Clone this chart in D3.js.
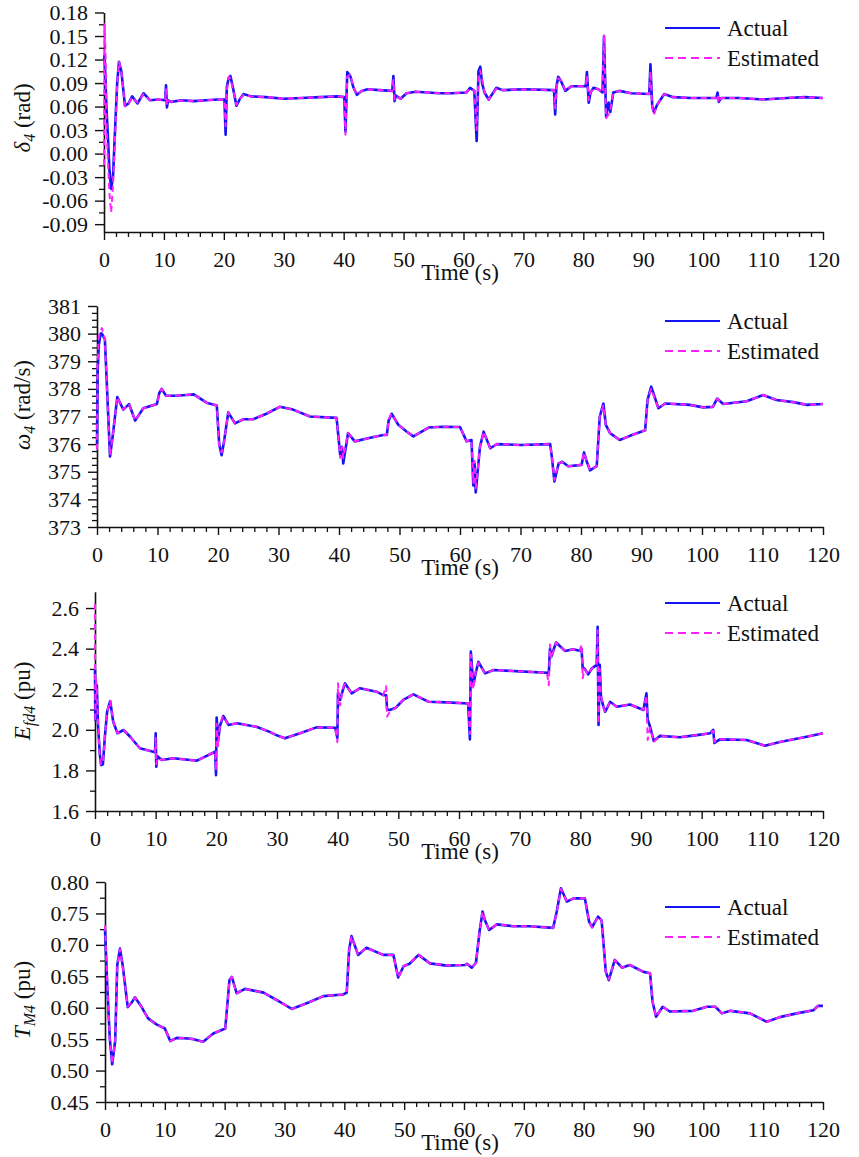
<!DOCTYPE html>
<html>
<head>
<meta charset="utf-8">
<script src="https://cdn.jsdelivr.net/npm/d3@7"></script>
<style>
  body { margin: 0; background: #fff; }
  svg text { font-family: "Liberation Serif", "Times New Roman", "DejaVu Serif", serif; fill: #111; }
</style>
</head>
<body>
<svg id="chart" width="859" height="1157"></svg>
<script>
// ---------- Rotor angle δ4 (rad) ----------
const deltaTime = [0, 0.1, 0.25, 0.4, 0.6, 0.9, 1.2, 1.5, 1.9, 2.2,
  2.5, 2.9, 3.5, 4.1, 4.7, 5.6, 6.6, 7.7, 9.0, 10.2,
  10.35, 10.5, 10.7, 11.2, 13, 15, 17, 19, 20.1, 20.3,
  20.5, 20.8, 21.1, 21.5, 22.1, 22.7, 23.3, 24.5, 27, 30,
  33, 36, 39, 40.1, 40.3, 40.6, 41.1, 41.6, 42.2, 43,
  44, 46, 48.1, 48.3, 48.5, 48.7, 49.5, 50.5, 52, 54,
  56, 58, 60.5, 61.1, 61.8, 62.2, 62.5, 62.8, 63.1, 63.5,
  64.2, 65.5, 66.5, 70, 75.1, 75.3, 75.5, 75.8, 76.3, 77,
  78, 80.4, 80.6, 80.9, 81.2, 81.7, 82.5, 83.2, 83.45, 83.8,
  84.2, 84.5, 85, 86, 88, 91.0, 91.2, 91.5, 91.8, 92.3,
  93.5, 95, 98, 102.2, 102.4, 102.6, 103, 106, 110, 114,
  117, 120];
const deltaActual = [0.120, 0.125, 0.095, 0.060, 0.030, -0.020, -0.045, -0.030, 0.040, 0.090,
  0.117, 0.105, 0.061, 0.064, 0.073, 0.064, 0.077, 0.068, 0.069, 0.068,
  0.087, 0.059, 0.068, 0.066, 0.068, 0.067, 0.068, 0.069, 0.069, 0.024,
  0.085, 0.096, 0.099, 0.085, 0.061, 0.070, 0.076, 0.073, 0.072, 0.070,
  0.071, 0.072, 0.073, 0.072, 0.028, 0.104, 0.099, 0.085, 0.075, 0.080,
  0.082, 0.081, 0.080, 0.099, 0.067, 0.074, 0.070, 0.077, 0.079, 0.078,
  0.077, 0.077, 0.078, 0.084, 0.080, 0.016, 0.105, 0.111, 0.090, 0.078,
  0.069, 0.084, 0.081, 0.082, 0.081, 0.050, 0.085, 0.098, 0.092, 0.080,
  0.086, 0.086, 0.104, 0.065, 0.078, 0.084, 0.082, 0.078, 0.150, 0.047,
  0.065, 0.053, 0.078, 0.080, 0.077, 0.076, 0.114, 0.060, 0.053, 0.062,
  0.076, 0.072, 0.071, 0.071, 0.078, 0.066, 0.071, 0.071, 0.069, 0.071,
  0.072, 0.071];
const deltaEstimated = [-0.015, 0.165, 0.130, 0.040, 0.000, -0.050, -0.075, -0.040, 0.030, 0.088,
  0.117, 0.105, 0.060, 0.064, 0.072, 0.065, 0.076, 0.068, 0.069, 0.068,
  0.082, 0.062, 0.067, 0.066, 0.068, 0.067, 0.068, 0.069, 0.069, 0.035,
  0.080, 0.098, 0.096, 0.083, 0.062, 0.070, 0.075, 0.073, 0.072, 0.070,
  0.071, 0.072, 0.073, 0.072, 0.024, 0.098, 0.101, 0.085, 0.075, 0.080,
  0.082, 0.081, 0.080, 0.094, 0.069, 0.073, 0.070, 0.077, 0.079, 0.078,
  0.077, 0.077, 0.078, 0.083, 0.080, 0.030, 0.100, 0.106, 0.095, 0.078,
  0.069, 0.083, 0.081, 0.082, 0.081, 0.058, 0.083, 0.096, 0.093, 0.080,
  0.086, 0.086, 0.100, 0.068, 0.078, 0.084, 0.082, 0.078, 0.152, 0.045,
  0.050, 0.055, 0.078, 0.080, 0.077, 0.076, 0.105, 0.058, 0.050, 0.062,
  0.076, 0.072, 0.071, 0.071, 0.075, 0.065, 0.071, 0.071, 0.069, 0.071,
  0.072, 0.071];
const deltaTicks = [-0.09, -0.06, -0.03, 0.00, 0.03, 0.06, 0.09, 0.12, 0.15, 0.18];

// ---------- Rotor speed ω4 (rad/s) ----------
const omegaTime = [0, 0.1, 0.3, 0.6, 0.8, 1.3, 1.7, 2.15, 2.6, 3.35,
  4.35, 5.3, 6.3, 7.65, 9.9, 10.3, 10.7, 11.4, 13, 14.8,
  16, 18.1, 19.8, 20.2, 20.6, 21.0, 21.7, 22.8, 24.2, 25.8,
  28, 30.2, 32.4, 35.2, 39.6, 40.2, 40.5, 40.7, 41.5, 42.6,
  44.6, 47.3, 47.9, 48.2, 48.7, 49.8, 51.2, 52.3, 54.8, 57,
  60, 61.1, 61.9, 62.2, 62.4, 62.6, 63.3, 63.9, 65, 66.1,
  70, 74.9, 75.2, 75.6, 76.3, 76.9, 77.9, 80.1, 80.5, 80.9,
  81.5, 82.6, 83.1, 83.7, 84.1, 84.8, 86.4, 88.1, 90.6, 91.0,
  91.6, 92.8, 93.9, 98, 100.2, 101.8, 102.5, 103.5, 107.4, 110.1,
  112.3, 115.1, 117.3, 120];
const omegaActual = [376.0, 378.6, 379.6, 380.0, 380.0, 379.8, 377.8, 375.55, 376.3, 377.7,
  377.25, 377.45, 376.85, 377.3, 377.45, 377.85, 378.0, 377.75, 377.75, 377.78,
  377.8, 377.5, 377.4, 376.0, 375.6, 376.1, 377.15, 376.75, 376.9, 376.9,
  377.1, 377.35, 377.25, 377.0, 376.95, 375.6, 375.9, 375.3, 376.4, 376.1,
  376.2, 376.33, 376.33, 376.85, 377.1, 376.7, 376.45, 376.28, 376.6, 376.63,
  376.62, 376.1, 376.15, 374.5, 375.3, 374.25, 375.9, 376.45, 375.85, 376.0,
  375.97, 376.0, 375.5, 374.65, 375.3, 375.36, 375.2, 375.25, 375.7, 375.4,
  375.05, 375.2, 377.0, 377.47, 376.7, 376.4, 376.15, 376.3, 376.5, 377.6,
  378.08, 377.3, 377.47, 377.42, 377.33, 377.35, 377.65, 377.45, 377.55, 377.78,
  377.6, 377.52, 377.42, 377.45];
const omegaEstimated = [375.8, 378.9, 379.9, 380.1, 380.2, 379.8, 377.7, 375.6, 376.3, 377.7,
  377.25, 377.45, 376.85, 377.3, 377.45, 377.85, 378.0, 377.75, 377.75, 377.78,
  377.8, 377.5, 377.4, 375.9, 375.7, 376.1, 377.15, 376.75, 376.9, 376.9,
  377.1, 377.35, 377.25, 377.0, 376.95, 375.5, 375.9, 375.5, 376.4, 376.1,
  376.2, 376.33, 376.33, 376.9, 377.1, 376.7, 376.45, 376.28, 376.6, 376.63,
  376.62, 376.1, 376.15, 374.6, 375.4, 374.4, 375.9, 376.45, 375.85, 376.0,
  375.97, 376.0, 375.5, 374.7, 375.3, 375.36, 375.2, 375.25, 375.7, 375.4,
  375.05, 375.2, 377.0, 377.4, 376.7, 376.4, 376.15, 376.3, 376.5, 377.6,
  378.0, 377.3, 377.47, 377.42, 377.33, 377.35, 377.65, 377.45, 377.55, 377.78,
  377.6, 377.52, 377.42, 377.45];
const omegaTicks = [373, 374, 375, 376, 377, 378, 379, 380, 381];

// ---------- Field voltage Efd4 (pu) ----------
const efdTime = [0, 0.05, 0.15, 0.3, 0.5, 0.8, 1.0, 1.3, 1.65, 2.0,
  2.5, 3.0, 3.7, 4.7, 5.8, 7.4, 9.6, 9.9, 10.0, 10.1,
  10.3, 11, 12.9, 15.7, 16.8, 19.8, 19.95, 20.05, 20.3, 20.6,
  21.15, 22, 23.4, 26.6, 28.8, 29.9, 31.3, 33.8, 36.5, 39.6,
  39.95, 40.05, 40.4, 40.9, 41.2, 42.3, 43.7, 46.4, 47.5, 48.0,
  48.15, 48.6, 49.5, 50.8, 52.5, 55, 58, 61.5, 61.8, 61.95,
  62.35, 62.75, 63.2, 64.3, 65.7, 70, 74.5, 74.8, 75.0, 75.2,
  76.0, 77.5, 78.8, 79.9, 80.2, 80.4, 80.65, 81.3, 81.9, 82.7,
  82.85, 83.0, 83.2, 83.4, 83.8, 84.1, 84.9, 86, 88.2, 90.4,
  90.9, 91.1, 91.5, 92.1, 93.1, 96.4, 99.2, 101.4, 101.9, 102.1,
  103, 107.4, 110.4, 112.9, 117.3, 120];
const efdActual = [2.30, 2.05, 2.20, 2.22, 2.02, 1.88, 1.826, 1.83, 1.975, 2.09,
  2.142, 2.04, 1.983, 1.999, 1.966, 1.909, 1.892, 1.89, 1.983, 1.818,
  1.87, 1.851, 1.86, 1.851, 1.848, 1.892, 1.777, 2.06, 1.95, 2.02,
  2.068, 2.024, 2.032, 2.015, 1.99, 1.974, 1.958, 1.983, 2.012, 2.01,
  1.96, 2.18, 2.147, 2.2, 2.229, 2.18, 2.205, 2.188, 2.171, 2.17,
  2.10, 2.098, 2.107, 2.147, 2.175, 2.138, 2.135, 2.13, 1.953, 2.385,
  2.22, 2.28, 2.335, 2.278, 2.295, 2.288, 2.281, 2.28, 2.40, 2.36,
  2.43, 2.388, 2.397, 2.39, 2.40, 2.30, 2.303, 2.273, 2.303, 2.32,
  2.508, 2.024, 2.32, 2.163, 2.114, 2.089, 2.138, 2.114, 2.125, 2.098,
  2.18, 2.05, 2.015, 1.945, 1.97, 1.963, 1.974, 1.983, 2.00, 1.935,
  1.953, 1.95, 1.922, 1.94, 1.966, 1.983];
const efdEstimated = [2.62, 2.04, 2.25, 2.20, 2.03, 1.87, 1.83, 1.84, 1.97, 2.09,
  2.142, 2.04, 1.983, 1.999, 1.966, 1.909, 1.892, 1.89, 1.96, 1.83,
  1.86, 1.851, 1.86, 1.851, 1.848, 1.892, 1.80, 2.03, 1.92, 2.03,
  2.068, 2.024, 2.032, 2.015, 1.99, 1.974, 1.958, 1.983, 2.012, 2.01,
  1.94, 2.229, 2.12, 2.21, 2.225, 2.18, 2.205, 2.188, 2.171, 2.215,
  2.065, 2.09, 2.107, 2.147, 2.175, 2.138, 2.135, 2.13, 1.98, 2.37,
  2.20, 2.29, 2.33, 2.278, 2.295, 2.288, 2.281, 2.22, 2.42, 2.35,
  2.43, 2.388, 2.397, 2.39, 2.42, 2.254, 2.30, 2.273, 2.303, 2.32,
  2.49, 2.03, 2.30, 2.17, 2.11, 2.09, 2.138, 2.114, 2.125, 2.098,
  2.17, 1.95, 2.01, 1.94, 1.97, 1.963, 1.974, 1.983, 1.995, 1.94,
  1.953, 1.95, 1.922, 1.94, 1.966, 1.983];
const efdTicks = [1.6, 1.8, 2.0, 2.2, 2.4, 2.6];

// ---------- Mechanical torque TM4 (pu) ----------
const tmTime = [0, 0.4, 0.8, 1.2, 1.7, 2.05, 2.5, 2.95, 3.8, 4.45,
  5.0, 6.1, 7.2, 8.6, 10, 10.9, 12, 13.9, 14.8, 16.4,
  18.1, 20.1, 20.8, 21.2, 22, 23.4, 26.5, 29.2, 31.2, 33.7,
  36.5, 39.8, 40.4, 40.8, 41.2, 42.3, 43.7, 46.5, 48.2, 49,
  49.9, 50.9, 52.4, 54.3, 57.1, 60.2, 60.5, 61.3, 62, 62.6,
  63.1, 63.5, 64.2, 65.5, 68.2, 71, 74.9, 75.5, 76.2, 77.2,
  78.3, 80.2, 80.9, 81.4, 82.4, 83, 83.7, 84.2, 85.2, 86.4,
  87.7, 90, 91.1, 91.5, 92.1, 93.2, 94.4, 98.3, 100.6, 102,
  103.1, 104.5, 107.8, 110.6, 112.8, 115.6, 118.4, 119.2, 120];
const tmActual = [0.725, 0.631, 0.551, 0.510, 0.547, 0.668, 0.694, 0.668, 0.601, 0.608,
  0.6165, 0.6015, 0.583, 0.5735, 0.567, 0.547, 0.552, 0.551, 0.550, 0.5458,
  0.559, 0.567, 0.644, 0.649, 0.623, 0.630, 0.624, 0.6095, 0.598, 0.607,
  0.6185, 0.621, 0.624, 0.692, 0.714, 0.684, 0.6955, 0.684, 0.684, 0.648,
  0.666, 0.670, 0.684, 0.6706, 0.667, 0.668, 0.670, 0.6636, 0.6715, 0.721,
  0.753, 0.739, 0.7236, 0.7326, 0.7296, 0.7296, 0.727, 0.753, 0.790, 0.7687,
  0.774, 0.774, 0.737, 0.728, 0.7448, 0.739, 0.657, 0.644, 0.676, 0.6636,
  0.668, 0.657, 0.6547, 0.610, 0.5856, 0.6015, 0.594, 0.595, 0.6015, 0.6015,
  0.591, 0.595, 0.591, 0.5776, 0.585, 0.591, 0.596, 0.603, 0.603];
const tmEstimated = [0.731, 0.633, 0.552, 0.511, 0.548, 0.667, 0.693, 0.667, 0.602, 0.608,
  0.6165, 0.6015, 0.583, 0.5735, 0.567, 0.547, 0.552, 0.551, 0.550, 0.5458,
  0.559, 0.567, 0.643, 0.649, 0.623, 0.630, 0.624, 0.6095, 0.598, 0.607,
  0.6185, 0.621, 0.624, 0.691, 0.714, 0.684, 0.6955, 0.684, 0.684, 0.648,
  0.666, 0.670, 0.684, 0.6706, 0.667, 0.668, 0.670, 0.6636, 0.6715, 0.720,
  0.753, 0.739, 0.7236, 0.7326, 0.7296, 0.7296, 0.727, 0.752, 0.789, 0.7687,
  0.774, 0.774, 0.737, 0.728, 0.7448, 0.739, 0.657, 0.645, 0.676, 0.6636,
  0.668, 0.657, 0.6547, 0.611, 0.5856, 0.6015, 0.594, 0.595, 0.6015, 0.6015,
  0.591, 0.595, 0.591, 0.5776, 0.585, 0.591, 0.596, 0.603, 0.603];
const tmTicks = [0.45, 0.50, 0.55, 0.60, 0.65, 0.70, 0.75, 0.80];

// ---------- Shared time axis ----------
const timeTicks = [0, 10, 20, 30, 40, 50, 60, 70, 80, 90, 100, 110, 120];
const legendLabels = ["Actual", "Estimated"];
const xAxisTitle = "Time (s)";

// ---------- Layout ----------
const SERIF = '"Liberation Serif", "Times New Roman", "DejaVu Serif", serif';
const fmt = d3.formatLocale({decimal: ".", thousands: ",", grouping: [3], currency: ["", ""], minus: "-"});

const panels = [
  {
    time: deltaTime, actual: deltaActual, estimated: deltaEstimated,
    yDomain: [-0.1, 0.18], yTicks: deltaTicks, yMinorStep: 0.015, yFormat: fmt.format(".2f"),
    left: 104, right: 823, top: 12.5, bottom: 232, legendY: 28, titleY: 118,
    title: [{t: "δ", i: true}, {t: "4", i: true, sub: true}, {t: " (rad)"}]
  },
  {
    time: omegaTime, actual: omegaActual, estimated: omegaEstimated,
    yDomain: [373, 381], yTicks: omegaTicks, yMinorStep: 0.25, yFormat: fmt.format("d"),
    left: 97, right: 823, top: 306, bottom: 527, legendY: 321, titleY: 405,
    title: [{t: "ω", i: true}, {t: "4", i: true, sub: true}, {t: " (rad/s)"}]
  },
  {
    time: efdTime, actual: efdActual, estimated: efdEstimated,
    yDomain: [1.6, 2.68], yTicks: efdTicks, yMinorStep: 0.1, yFormat: fmt.format(".1f"),
    left: 95, right: 823, top: 591.8, bottom: 811, legendY: 603, titleY: 701,
    title: [{t: "E", i: true}, {t: "fd4", i: true, sub: true}, {t: " (pu)"}]
  },
  {
    time: tmTime, actual: tmActual, estimated: tmEstimated,
    yDomain: [0.45, 0.80], yTicks: tmTicks, yMinorStep: 0.025, yFormat: fmt.format(".2f"),
    left: 105, right: 823, top: 882, bottom: 1102, legendY: 907, titleY: 1000,
    title: [{t: "T", i: true}, {t: "M4", i: true, sub: true}, {t: " (pu)"}]
  }
];

const actualColor = "#1414f5";
const estColor = "#ff22ff";
const svg = d3.select("#chart");

panels.forEach(p => {
  const x = d3.scaleLinear().domain([0, 120]).range([p.left, p.right]);
  const y = d3.scaleLinear().domain(p.yDomain).range([p.bottom, p.top]);
  const g = svg.append("g").attr("font-family", SERIF);

  // minor ticks
  const yMinor = d3.range(
    Math.ceil(p.yDomain[0] / p.yMinorStep - 1e-6) * p.yMinorStep,
    p.yDomain[1] + 1e-9, p.yMinorStep
  ).filter(v => !p.yTicks.some(t => Math.abs(t - v) < 1e-6) && v >= p.yDomain[0] - 1e-9);
  const xMinor = d3.range(0, 121, 2).filter(v => v % 10 !== 0);

  g.append("g")
    .attr("transform", `translate(${p.left},0)`)
    .call(d3.axisLeft(y).tickValues(yMinor).tickSize(5).tickSizeOuter(0).tickFormat(""))
    .call(s => s.select(".domain").remove())
    .selectAll("line").attr("stroke", "#111").attr("stroke-width", 1.3);

  g.append("g")
    .attr("transform", `translate(0,${p.bottom})`)
    .call(d3.axisBottom(x).tickValues(xMinor).tickSize(5).tickSizeOuter(0).tickFormat(""))
    .call(s => s.select(".domain").remove())
    .selectAll("line").attr("stroke", "#111").attr("stroke-width", 1.3);

  // major axes
  const ya = g.append("g")
    .attr("transform", `translate(${p.left},0)`)
    .call(d3.axisLeft(y).tickValues(p.yTicks).tickSize(9).tickSizeOuter(0).tickPadding(7).tickFormat(p.yFormat));
  ya.attr("font-size", 22).attr("font-family", SERIF);
  ya.selectAll("text").style("font-family", SERIF).style("font-size", "22px");
  ya.select(".domain").attr("stroke", "#111").attr("stroke-width", 1.6);
  ya.selectAll(".tick line").attr("stroke", "#111").attr("stroke-width", 1.4);

  const xa = g.append("g")
    .attr("transform", `translate(0,${p.bottom})`)
    .call(d3.axisBottom(x).tickValues(timeTicks).tickSize(8).tickSizeOuter(0).tickPadding(11).tickFormat(d3.format("d")));
  xa.attr("font-size", 22).attr("font-family", SERIF);
  xa.selectAll("text").style("font-family", SERIF).style("font-size", "22px");
  xa.select(".domain").attr("stroke", "#111").attr("stroke-width", 1.6);
  xa.selectAll(".tick line").attr("stroke", "#111").attr("stroke-width", 1.4);

  // x-axis title
  g.append("text")
    .attr("x", 460).attr("y", p.bottom + 48)
    .attr("text-anchor", "middle")
    .style("font-family", SERIF)
    .style("font-size", "23px")
    .text(xAxisTitle);

  // y-axis title (rotated)
  const yt = g.append("text")
    .attr("transform", `translate(30,${p.titleY}) rotate(-90)`)
    .attr("text-anchor", "middle")
    .style("font-family", SERIF)
    .style("font-size", "23px");
  p.title.forEach((part, k) => {
    const ts = yt.append("tspan").text(part.t);
    if (part.i) ts.attr("font-style", "italic");
    if (part.sub) ts.style("font-size", "16px").attr("dy", 5);
    else if (k > 0 && p.title[k - 1].sub) ts.attr("dy", -5);
  });

  // series
  const rows = p.time.map((t, k) => ({t, a: p.actual[k], e: p.estimated[k]}));
  const lineA = d3.line().x(d => x(d.t)).y(d => y(d.a));
  const lineE = d3.line().x(d => x(d.t)).y(d => y(d.e));

  g.append("path").datum(rows)
    .attr("d", lineA)
    .attr("fill", "none")
    .attr("stroke", actualColor)
    .attr("stroke-width", 2.6)
    .attr("stroke-linejoin", "round");

  g.append("path").datum(rows)
    .attr("d", lineE)
    .attr("fill", "none")
    .attr("stroke", estColor)
    .attr("stroke-width", 2)
    .attr("stroke-dasharray", "6,4")
    .attr("stroke-linejoin", "round");

  // legend
  const lg = g.append("g");
  legendLabels.forEach((lab, k) => {
    const ly = p.legendY + k * 30;
    lg.append("line")
      .attr("x1", 665).attr("x2", 720).attr("y1", ly).attr("y2", ly)
      .attr("stroke", k === 0 ? actualColor : estColor)
      .attr("stroke-width", k === 0 ? 2.2 : 2)
      .attr("stroke-dasharray", k === 0 ? null : "8,5");
    lg.append("text")
      .attr("x", 727).attr("y", ly + 8)
      .style("font-family", SERIF)
      .style("font-size", "23px")
      .text(lab);
  });
});
</script>
</body>
</html>
